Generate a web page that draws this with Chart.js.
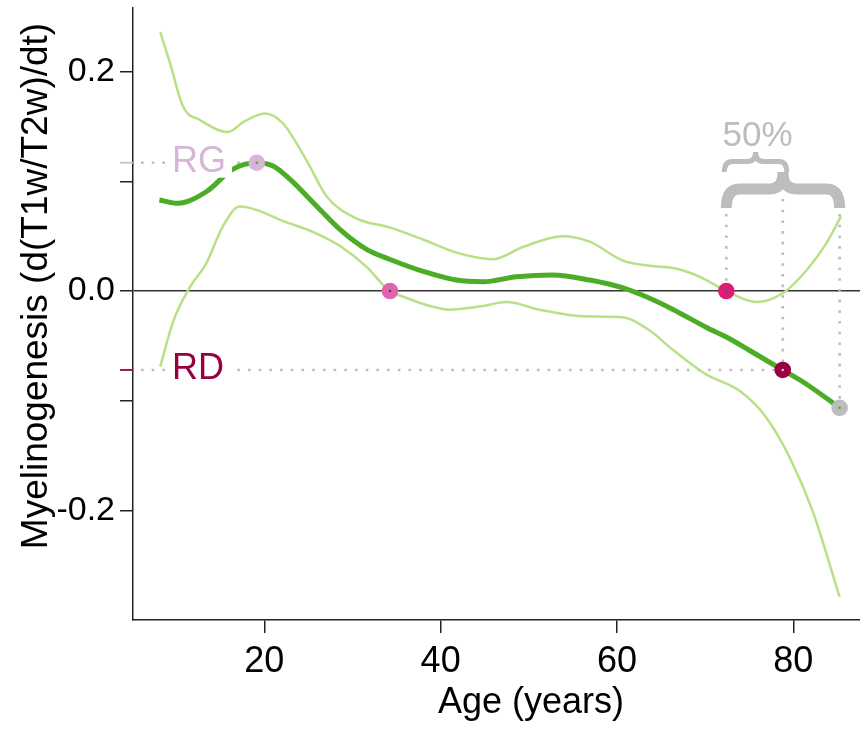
<!DOCTYPE html>
<html>
<head>
<meta charset="utf-8">
<script src="https://cdn.jsdelivr.net/npm/chart.js@4"></script>
<style>
  html, body { margin: 0; padding: 0; background: #fff; }
  #wrap { width: 860px; height: 733px; overflow: hidden; }
</style>
</head>
<body>
<div id="wrap"><canvas id="chart" width="860" height="733"></canvas></div>
<script>
// fitted rate of change (thick line)
const fitAges   = [8.1, 10.2, 13.5, 16.4, 19.15, 21.0, 22.9, 25.5, 28.6, 31.6, 34.2, 38.0, 41.8, 44.8, 48.6, 52.7, 56.9, 60.6, 63.7, 66.4, 70.1, 72.4, 75.0, 78.8, 81.5, 85.25];
const fitValues = [0.083, 0.080, 0.091, 0.111, 0.117, 0.114, 0.102, 0.081, 0.056, 0.038, 0.029, 0.018, 0.010, 0.0085, 0.013, 0.0147, 0.010, 0.003, -0.0066, -0.017, -0.033, -0.042, -0.054, -0.072, -0.085, -0.1065];

// confidence band, upper edge
const upperAges   = [8.2, 9.3, 10.8, 12.7, 15.9, 17.6, 20.06, 22.1, 24.8, 27.1, 30.5, 34.2, 38.0, 41.8, 45.9, 49.3, 53.8, 56.9, 60.6, 63.7, 66.4, 69.4, 72.4, 75.8, 78.8, 81.5, 83.7, 85.4];
const upperValues = [0.236, 0.208, 0.168, 0.156, 0.145, 0.154, 0.162, 0.153, 0.119, 0.086, 0.066, 0.058, 0.047, 0.035, 0.029, 0.040, 0.050, 0.045, 0.028, 0.023, 0.021, 0.013, 0.0, -0.010, -0.002, 0.019, 0.043, 0.068];

// confidence band, lower edge
const lowerAges   = [8.2, 9.7, 11.6, 13.4, 15.3, 17.2, 19.1, 22.1, 25.5, 28.6, 31.6, 34.2, 35.7, 38.5, 41.0, 44.5, 47.5, 51.2, 56.1, 60.6, 63.7, 66.4, 70.1, 73.9, 76.9, 79.6, 82.2, 85.25];
const lowerValues = [-0.069, -0.027, 0.004, 0.025, 0.059, 0.077, 0.074, 0.064, 0.054, 0.041, 0.022, 0.0, -0.005, -0.013, -0.017, -0.014, -0.010, -0.017, -0.023, -0.024, -0.036, -0.054, -0.076, -0.091, -0.115, -0.152, -0.201, -0.279];

// marked points
const markerLabels  = ['RG', '', '', 'RD', ''];
const markerAges    = [19.15, 34.25, 72.4, 78.8, 85.25];
const markerValues  = [0.117, 0, 0, -0.072, -0.1065];
const markerColors  = ['#d7b5d8', '#df65b0', '#dd1c77', '#980043', '#bdbdbd'];
const markerCenters = ['#4dac26', '#444444', '#555555', '#cccccc', '#4dac26'];

const xTicks = [20, 40, 60, 80];
const yTicks = [-0.2, -0.1, 0, 0.1, 0.2];
const yLabelled = [-0.2, 0, 0.2];
const braceText = '50%';

const FONT = '"Liberation Sans", Arial, Helvetica, sans-serif';
const toPoints = (xs, ys) => xs.map((a, i) => ({ x: a, y: ys[i] }));

function drawBrace(ctx, x1, x2, yEnd, yCusp, r) {
    const xm = (x1 + x2) / 2;
    const yBar = yCusp + (yEnd - yCusp) * 0.47;
    ctx.beginPath();
    ctx.moveTo(x1, yEnd);
    ctx.quadraticCurveTo(x1, yBar, x1 + r, yBar);
    ctx.lineTo(xm - r, yBar);
    ctx.quadraticCurveTo(xm, yBar, xm, yCusp);
    ctx.quadraticCurveTo(xm, yBar, xm + r, yBar);
    ctx.lineTo(x2 - r, yBar);
    ctx.quadraticCurveTo(x2, yBar, x2, yEnd);
    ctx.stroke();
}

const annotations = {
    id: 'annotations',
    beforeDatasetsDraw(chart) {
        const { ctx, chartArea, scales: { x, y } } = chart;
        ctx.save();
        // dotted guides
        ctx.strokeStyle = '#bdbdbd';
        ctx.lineWidth = 2.6;
        ctx.setLineDash([2.6, 8.1]);
        [0, 3].forEach(i => {
            const py = y.getPixelForValue(markerValues[i]);
            ctx.beginPath();
            ctx.moveTo(chartArea.left + 8, py);
            ctx.lineTo(x.getPixelForValue(markerAges[i]), py);
            ctx.stroke();
        });
        [2, 3, 4].forEach(i => {
            const px = x.getPixelForValue(markerAges[i]);
            ctx.beginPath();
            ctx.moveTo(px, i === 3 ? 199 : 214);
            ctx.lineTo(px, y.getPixelForValue(markerValues[i]));
            ctx.stroke();
        });
        ctx.setLineDash([]);
        // coloured marks just outside the y axis
        ctx.lineWidth = 1.8;
        [0, 3].forEach(i => {
            const py = y.getPixelForValue(markerValues[i]);
            ctx.strokeStyle = markerColors[i];
            ctx.beginPath();
            ctx.moveTo(chartArea.left - 13, py);
            ctx.lineTo(chartArea.left, py);
            ctx.stroke();
        });
        ctx.restore();
    },
    afterDatasetsDraw(chart) {
        const { ctx, scales: { x, y } } = chart;
        ctx.save();
        // RG / RD labels on a white box
        ctx.font = '36px ' + FONT;
        ctx.textAlign = 'left';
        ctx.textBaseline = 'middle';
        markerLabels.forEach((lab, i) => {
            if (!lab) return;
            const py = y.getPixelForValue(markerValues[i]) - 1;
            const w = ctx.measureText(lab).width;
            ctx.fillStyle = '#fff';
            ctx.fillRect(166, py - 16, w + 12, 32);
            ctx.fillStyle = markerColors[i];
            ctx.fillText(lab, 172, py);
        });
        // braces
        ctx.strokeStyle = '#bdbdbd';
        const bx1 = x.getPixelForValue(markerAges[2]);
        const bx2 = x.getPixelForValue(markerAges[3]);
        const bx3 = x.getPixelForValue(markerAges[4]);
        ctx.lineWidth = 11;
        drawBrace(ctx, bx1, bx3, 208, 172, 13);
        ctx.lineWidth = 5;
        drawBrace(ctx, bx1 - 2, bx2 + 4, 172, 152, 8);
        ctx.fillStyle = '#bdbdbd';
        ctx.font = '35px ' + FONT;
        ctx.textAlign = 'center';
        ctx.fillText(braceText, (bx1 + bx2) / 2 + 3, 136);
        // axis titles
        ctx.fillStyle = '#000';
        ctx.font = '36px ' + FONT;
        ctx.fillText('Age (years)', 531, 703);
        ctx.font = '37px ' + FONT;
        ctx.translate(37, 286);
        ctx.rotate(-Math.PI / 2);
        ctx.fillText('Myelinogenesis (d(T1w/T2w)/dt)', 0, 0);
        ctx.restore();
    }
};

const curve = (xs, ys, color, width, order) => ({
    data: toPoints(xs, ys),
    borderColor: color,
    borderWidth: width,
    pointRadius: 0,
    cubicInterpolationMode: 'monotone',
    order: order,
});

new Chart(document.getElementById('chart').getContext('2d'), {
    type: 'line',
    data: {
        datasets: [
            {
                type: 'scatter',
                data: toPoints(markerAges, markerValues),
                pointRadius: 1.3,
                pointBackgroundColor: markerCenters,
                pointBorderWidth: 0,
                order: 0,
            },
            {
                type: 'scatter',
                data: toPoints(markerAges, markerValues),
                pointRadius: 8.3,
                pointBackgroundColor: markerColors,
                pointBorderWidth: 0,
                order: 1,
            },
            curve(fitAges, fitValues, '#4dac26', 5, 2),
            curve(upperAges, upperValues, '#b8e186', 2.5, 3),
            curve(lowerAges, lowerValues, '#b8e186', 2.5, 3),
        ],
    },
    options: {
        responsive: false,
        animation: false,
        devicePixelRatio: 1,
        layout: { autoPadding: false, padding: { top: 8, left: 0, right: 0, bottom: 0 } },
        plugins: { legend: { display: false }, tooltip: { enabled: false } },
        scales: {
            x: {
                type: 'linear',
                position: 'bottom',
                min: 5.11,
                max: 87.56,
                afterBuildTicks: s => { s.ticks = xTicks.map(v => ({ value: v })); },
                afterFit: s => { s.height = 113; s.paddingLeft = 0; s.paddingRight = 0; },
                grid: { drawOnChartArea: false, tickLength: 13, color: '#222', lineWidth: 1.5 },
                border: { display: true, color: '#222', width: 1.5 },
                ticks: { color: '#000', font: { size: 36, family: FONT }, padding: 7, maxRotation: 0, autoSkip: false },
            },
            y: {
                type: 'linear',
                min: -0.300,
                max: 0.2581,
                afterBuildTicks: s => { s.ticks = yTicks.map(v => ({ value: v })); },
                afterFit: s => { s.width = 133; s.paddingTop = 0; s.paddingBottom = 0; },
                grid: {
                    drawOnChartArea: true,
                    tickLength: 13,
                    lineWidth: 1.5,
                    tickColor: '#222',
                    color: c => (c.tick && Math.abs(c.tick.value) < 1e-9) ? '#333' : 'rgba(0,0,0,0)',
                },
                border: { display: true, color: '#222', width: 1.5 },
                ticks: {
                    color: '#000',
                    font: { size: 34, family: FONT },
                    padding: 5,
                    autoSkip: false,
                    callback: v => yLabelled.some(t => Math.abs(t - v) < 1e-9) ? v.toFixed(1) : '',
                },
            },
        },
    },
    plugins: [annotations],
});
</script>
</body>
</html>
